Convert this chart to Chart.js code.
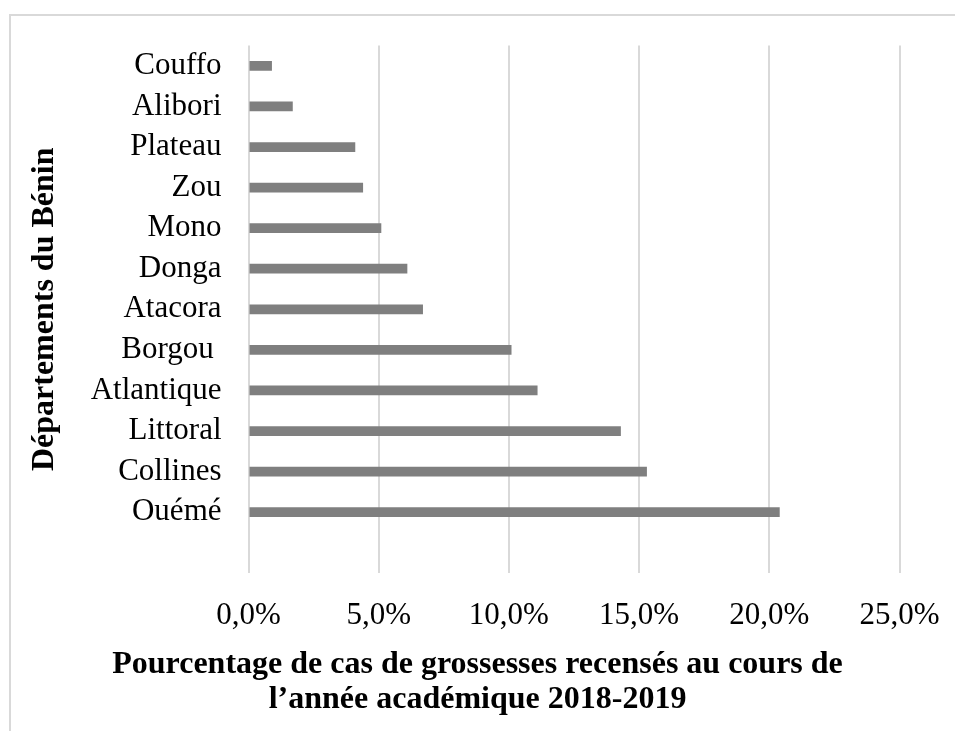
<!DOCTYPE html>
<html lang="fr">
<head>
<meta charset="utf-8">
<title>Grossesses par département</title>
<script src="https://cdn.jsdelivr.net/npm/chart.js@4/dist/chart.umd.min.js"></script>
<style>
  html, body { margin: 0; padding: 0; background: #ffffff; }
  #wrap { position: relative; width: 955px; height: 731px; overflow: hidden; }
  #frame {
    position: absolute; left: 9px; top: 14px; width: 960px; height: 730px;
    border-top: 2px solid #d9d9d9; border-left: 2px solid #d9d9d9;
    pointer-events: none;
  }
  canvas { position: absolute; left: 0; top: 0; }
</style>
</head>
<body>
<div id="wrap">
  <canvas id="chart" width="955" height="731"></canvas>
  <div id="frame"></div>
</div>
<script>
// Départements (top to bottom); the trailing blank slot leaves the empty band under Ouémé
const departements = ['Couffo', 'Alibori', 'Plateau', 'Zou', 'Mono', 'Donga', 'Atacora',
                      'Borgou ', 'Atlantique', 'Littoral', 'Collines', 'Ouémé', ''];
// Pourcentage de cas de grossesses (%)
const pourcentages = [0.9, 1.7, 4.1, 4.4, 5.1, 6.1, 6.7, 10.1, 11.1, 14.3, 15.3, 20.4, null];
// Axis bounds and step (%)
const axeMin = 0;
const axeMax = 25;
const axePas = 5;

const serif = "'Liberation Serif', 'Times New Roman', serif";

new Chart(document.getElementById('chart'), {
  type: 'bar',
  data: {
    labels: departements,
    datasets: [{
      data: pourcentages,
      backgroundColor: '#7f7f7f',
      borderWidth: 0,
      barPercentage: 0.24,
      categoryPercentage: 1.0
    }]
  },
  options: {
    indexAxis: 'y',
    responsive: false,
    animation: false,
    layout: { padding: { top: 45, right: 0, bottom: 0, left: 0 } },
    plugins: {
      legend: { display: false },
      tooltip: { enabled: false },
      // Axis caption, centred on the whole figure
      title: {
        display: true,
        position: 'bottom',
        fullSize: true,
        text: ['Pourcentage de cas de grossesses recensés au cours de',
               'l\u2019année académique 2018-2019'],
        color: '#000000',
        font: { family: serif, size: 32, weight: 'bold', lineHeight: '35px' },
        padding: { top: 0, bottom: 13.5 }
      }
    },
    scales: {
      x: {
        min: axeMin,
        max: axeMax,
        border: { display: false },
        // invisible tick marks give the gap between plot and labels
        grid: { color: '#d9d9d9', lineWidth: 2, drawTicks: true, tickLength: 24, tickColor: 'rgba(0,0,0,0)' },
        ticks: {
          stepSize: axePas,
          padding: 0,
          color: '#000000',
          font: { family: serif, size: 31 },
          callback: v => v.toFixed(1).replace('.', ',') + '%'
        },
        afterFit: s => { s.height = 74.5; }
      },
      y: {
        border: { display: false },
        grid: { display: false, drawTicks: false },
        ticks: {
          padding: 27,
          color: '#000000',
          font: { family: serif, size: 31 }
        },
        title: {
          display: true,
          text: 'Départements du Bénin',
          color: '#000000',
          font: { family: serif, size: 32, weight: 'bold', lineHeight: 1.2 },
          padding: { top: 26, bottom: 0 }
        },
        afterFit: s => { s.width = 248.5; }
      },
      // empty margin on the right of the plot
      marge: {
        type: 'linear',
        axis: 'y',
        position: 'right',
        border: { display: false },
        grid: { display: false, drawTicks: false },
        ticks: { display: false },
        afterFit: s => { s.width = 55.5; }
      }
    }
  }
});
</script>
</body>
</html>
